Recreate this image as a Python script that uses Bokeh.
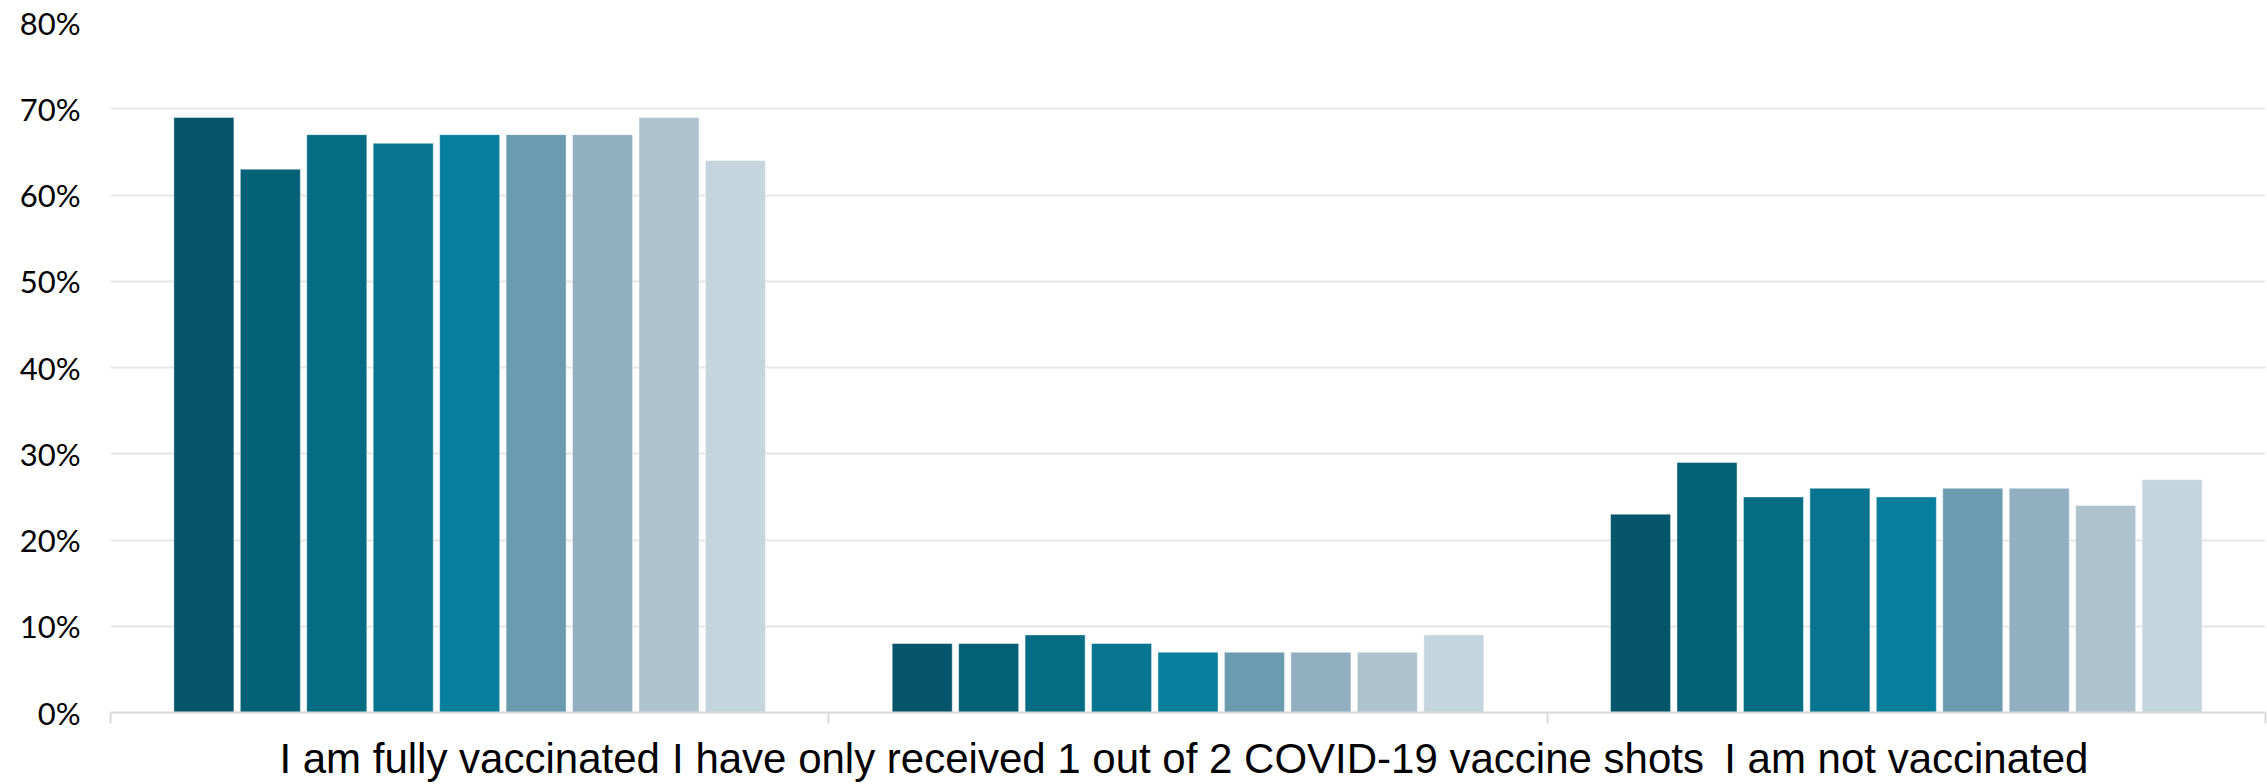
import numpy as np
from bokeh.plotting import figure
from bokeh.models import Range1d, FixedTicker, PrintfTickFormatter, ColumnDataSource
from bokeh.embed import file_html
from bokeh.resources import INLINE

categories = [
    "I am fully vaccinated",
    "I have only received 1 out of 2 COVID-19 vaccine shots",
    "I am not vaccinated",
]
series_names = ["S1", "S2", "S3", "S4", "S5", "S6", "S7", "S8", "S9"]
series_values = [
    [69, 8, 23],
    [63, 8, 29],
    [67, 9, 25],
    [66, 8, 26],
    [67, 7, 25],
    [67, 7, 26],
    [67, 7, 26],
    [69, 7, 24],
    [64, 9, 27],
]
colors = ["#06566B", "#056176", "#046C83", "#07758F", "#087F9C",
          "#6A9BAF", "#91AFC1", "#AFC3CF", "#C5D5DD"]
y_ticks = [0, 10, 20, 30, 40, 50, 60, 70, 80]

slot = 0.0925
bar_w = 0.0836

p = figure(width=2267, height=784, output_backend="svg", toolbar_location=None,
           x_range=Range1d(0, 3), y_range=Range1d(0, 80),
           min_border_left=110, min_border_right=2, min_border_top=22,
           min_border_bottom=72)
p.outline_line_color = None
p.background_fill_color = "white"
p.border_fill_color = "white"

cat_idx = np.arange(len(categories))
for i, (name, vals) in enumerate(zip(series_names, series_values)):
    src = ColumnDataSource(dict(x=cat_idx + 0.5 + (i - 4) * slot, top=vals))
    p.vbar(x="x", top="top", bottom=0, width=bar_w, source=src,
           fill_color=colors[i], line_color="white", line_alpha=0.45, line_width=1)

# y axis
p.yaxis.ticker = FixedTicker(ticks=y_ticks)
p.yaxis.formatter = PrintfTickFormatter(format="%d%%")
p.yaxis.axis_line_color = None
p.yaxis.major_tick_line_color = None
p.yaxis.minor_tick_line_color = None
p.yaxis.major_tick_out = 0
p.yaxis.major_tick_in = 0
p.yaxis.minor_tick_out = 0
p.yaxis.major_label_text_font = "Lato"
p.yaxis.major_label_text_font_size = "31px"
p.yaxis.major_label_text_color = "#000000"
p.yaxis.major_label_standoff = 30

# x axis
p.xaxis.ticker = FixedTicker(ticks=[0.5, 1.5, 2.5], minor_ticks=[0, 1, 2, 3])
p.xaxis.major_label_overrides = {0.5: categories[0], 1.5: categories[1], 2.5: categories[2]}
p.xaxis.axis_line_color = "#D9D9D9"
p.xaxis.axis_line_width = 2
p.xaxis.major_tick_line_color = None
p.xaxis.minor_tick_line_color = "#D9D9D9"
p.xaxis.minor_tick_line_width = 2
p.xaxis.minor_tick_out = 11
p.xaxis.minor_tick_in = 0
p.xaxis.major_tick_out = 0
p.xaxis.major_tick_in = 0
p.xaxis.major_label_text_font = "Liberation Sans"
p.xaxis.major_label_text_font_size = "42px"
p.xaxis.major_label_text_line_height = 1.0
p.xaxis.major_label_text_color = "#000000"
p.xaxis.major_label_standoff = 11

p.xgrid.grid_line_color = None
p.ygrid.grid_line_color = "#E6E6E6"
p.ygrid.grid_line_width = 2

open("out.html", "w").write(file_html(p, INLINE))
